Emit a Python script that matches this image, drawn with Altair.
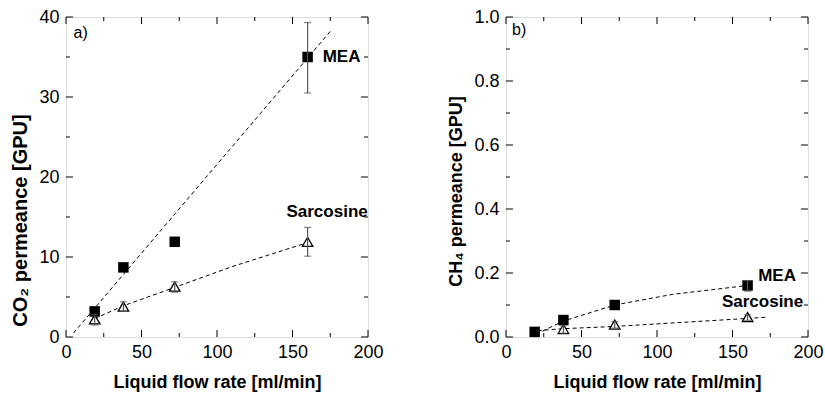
import altair as alt
import pandas as pd

FONT = "Liberation Sans"

# ---------- data ----------
flow = [19, 38, 72, 160]

# panel a: CO2 permeance [GPU]
a_mea = [3.2, 8.7, 11.9, 35.0]
a_mea_lo = [3.2, 8.7, 11.9, 30.5]
a_mea_hi = [3.2, 8.7, 11.9, 39.3]
a_sar = [2.2, 3.8, 6.3, 11.9]
a_sar_lo = [1.5, 3.2, 5.6, 10.1]
a_sar_hi = [2.8, 4.4, 6.9, 13.7]
a_fit_mea_x = [5, 175]
a_fit_mea_y = [0.5, 38.2]
a_fit_sar_x = [19, 38, 72, 110, 160]
a_fit_sar_y = [2.3, 3.9, 6.2, 8.8, 11.8]

# panel b: CH4 permeance [GPU]
b_mea = [0.016, 0.053, 0.100, 0.161]
b_mea_lo = [0.016, 0.053, 0.100, 0.143]
b_mea_hi = [0.016, 0.053, 0.100, 0.176]
b_sar_x = [38, 72, 160]
b_sar = [0.025, 0.039, 0.062]
b_sar_lo = [0.012, 0.028, 0.052]
b_sar_hi = [0.035, 0.048, 0.070]
b_fit_mea_x = [24, 38, 72, 110, 160]
b_fit_mea_y = [0.018, 0.050, 0.100, 0.133, 0.161]
b_fit_sar_x = [21, 38, 72, 160, 173]
b_fit_sar_y = [0.020, 0.026, 0.033, 0.058, 0.062]

x_major = [0, 50, 100, 150, 200]
x_minor = [25, 75, 125, 175]
a_y_major = [0, 10, 20, 30, 40]
a_y_minor = [5, 15, 25, 35]
b_y_major = [0.0, 0.2, 0.4, 0.6, 0.8, 1.0]
b_y_minor = [0.1, 0.3, 0.5, 0.7, 0.9]

W, H = 302, 320
MAJ, MIN = 7, 4


def panel(mea_x, mea, mea_lo, mea_hi, sar_x, sar, sar_lo, sar_hi,
          fm_x, fm_y, fs_x, fs_y, y_major, y_minor, ydom, ytitle, yfmt,
          ytitle_size, ytitle_y, letter, letter_pos, mea_pos, sar_pos):
    xs = alt.Scale(domain=[0, 200], nice=False)
    ys = alt.Scale(domain=ydom, nice=False)
    xax = alt.Axis(values=x_major, ticks=False, domain=False, grid=False,
                   labelFont=FONT, labelFontSize=18, labelColor="black",
                   labelPadding=6, title="Liquid flow rate [ml/min]",
                   titleFont=FONT, titleFontSize=18, titleFontWeight="bold",
                   titleColor="black", titlePadding=12, labelFlush=False)
    yax = alt.Axis(values=y_major, ticks=False, domain=False, grid=False,
                   format=yfmt, labelFont=FONT, labelFontSize=18,
                   labelColor="black", labelPadding=7, title=ytitle,
                   titleFont=FONT, titleFontSize=ytitle_size, titleFontWeight="bold",
                   titleColor="black", titlePadding=8, titleY=ytitle_y,
                   labelFlush=False)

    pts = pd.DataFrame({
        "x": list(mea_x) + list(sar_x),
        "y": list(mea) + list(sar),
        "lo": list(mea_lo) + list(sar_lo),
        "hi": list(mea_hi) + list(sar_hi),
        "s": ["MEA"] * len(mea) + ["Sarcosine"] * len(sar),
    })
    errs = pts[pts.hi > pts.lo]
    fits = pd.DataFrame({
        "x": list(fm_x) + list(fs_x),
        "y": list(fm_y) + list(fs_y),
        "s": ["MEA"] * len(fm_x) + ["Sarcosine"] * len(fs_x),
    })

    base_axes = alt.Chart(pd.DataFrame({"x": [0], "y": [ydom[0]]})).mark_point(opacity=0).encode(
        x=alt.X("x:Q", scale=xs, axis=xax),
        y=alt.Y("y:Q", scale=ys, axis=yax),
    )

    fit = alt.Chart(fits).mark_line(color="black", strokeDash=[4, 3], strokeWidth=1).encode(
        x=alt.X("x:Q", scale=xs), y=alt.Y("y:Q", scale=ys), detail="s:N")

    sq = alt.Chart(pts[pts.s == "MEA"]).mark_point(
        shape="square", filled=True, color="black", size=110, opacity=1).encode(
        x=alt.X("x:Q", scale=xs), y=alt.Y("y:Q", scale=ys))
    tri = alt.Chart(pts[pts.s == "Sarcosine"]).mark_point(
        shape="triangle-up", filled=False, fill="white", fillOpacity=1,
        stroke="black", strokeWidth=1.3, size=110, opacity=1).encode(
        x=alt.X("x:Q", scale=xs), y=alt.Y("y:Q", scale=ys))

    err = alt.Chart(errs).mark_rule(color="#555555", strokeWidth=1.2).encode(
        x=alt.X("x:Q", scale=xs), y=alt.Y("lo:Q", scale=ys), y2="hi:Q")
    cap_lo = alt.Chart(errs).mark_tick(color="#555555", orient="horizontal", size=7, thickness=1.2).encode(
        x=alt.X("x:Q", scale=xs), y=alt.Y("lo:Q", scale=ys))
    cap_hi = alt.Chart(errs).mark_tick(color="#555555", orient="horizontal", size=7, thickness=1.2).encode(
        x=alt.X("x:Q", scale=xs), y=alt.Y("hi:Q", scale=ys))

    def xt(vals, length):
        d = pd.DataFrame({"v": vals})
        bot = alt.Chart(d).mark_tick(color="black", orient="vertical", size=length,
                                     thickness=1, opacity=1).encode(
            x=alt.X("v:Q", scale=xs), y=alt.value(H - length / 2))
        top = alt.Chart(d).mark_tick(color="black", orient="vertical", size=length,
                                     thickness=1, opacity=1).encode(
            x=alt.X("v:Q", scale=xs), y=alt.value(length / 2))
        return [bot, top]

    def yt(vals, length):
        d = pd.DataFrame({"v": vals})
        left = alt.Chart(d).mark_tick(color="black", orient="horizontal", size=length,
                                      thickness=1, opacity=1).encode(
            y=alt.Y("v:Q", scale=ys), x=alt.value(length / 2))
        right = alt.Chart(d).mark_tick(color="black", orient="horizontal", size=length,
                                       thickness=1, opacity=1).encode(
            y=alt.Y("v:Q", scale=ys), x=alt.value(W - length / 2))
        return [left, right]

    ann = pd.DataFrame({
        "x": [letter_pos[0], mea_pos[0], sar_pos[0]],
        "y": [letter_pos[1], mea_pos[1], sar_pos[1]],
        "t": [letter, "MEA", "Sarcosine"],
    })
    let_t = alt.Chart(ann.iloc[[0]]).mark_text(
        font=FONT, fontSize=16, align="left", baseline="middle", color="black").encode(
        x=alt.X("x:Q", scale=xs), y=alt.Y("y:Q", scale=ys), text="t:N")
    lab_t = alt.Chart(ann.iloc[1:]).mark_text(
        font=FONT, fontSize=17, fontWeight="bold", align="left", baseline="middle", color="black").encode(
        x=alt.X("x:Q", scale=xs), y=alt.Y("y:Q", scale=ys), text="t:N")

    layers = [base_axes, fit, sq, tri, err, cap_lo, cap_hi]
    layers += xt(x_major, MAJ) + xt(x_minor, MIN) + yt(y_major, MAJ) + yt(y_minor, MIN)
    layers += [let_t, lab_t]
    return alt.layer(*layers).properties(width=W, height=H)


pa = panel(flow, a_mea, a_mea_lo, a_mea_hi, flow, a_sar, a_sar_lo, a_sar_hi,
           a_fit_mea_x, a_fit_mea_y, a_fit_sar_x, a_fit_sar_y,
           a_y_major, a_y_minor, [0, 40], "CO₂ permeance [GPU]", "d",
           20, 203, "a)", (5, 38), (170, 35), (146, 15.6))
pb = panel(flow, b_mea, b_mea_lo, b_mea_hi, b_sar_x, b_sar, b_sar_lo, b_sar_hi,
           b_fit_mea_x, b_fit_mea_y, b_fit_sar_x, b_fit_sar_y,
           b_y_major, b_y_minor, [0, 1], "CH₄ permeance [GPU]", ".1f",
           18, 174, "b)", (4, 0.958), (167, 0.192), (143, 0.109))

chart = alt.hconcat(pa, pb, spacing=63).properties(
    padding={"left": 10, "top": 7, "right": 0, "bottom": 0}
).configure_view(stroke="black", strokeWidth=1).configure(background="white")

chart.save("out.html", embed_options={"renderer": "svg", "actions": False})
